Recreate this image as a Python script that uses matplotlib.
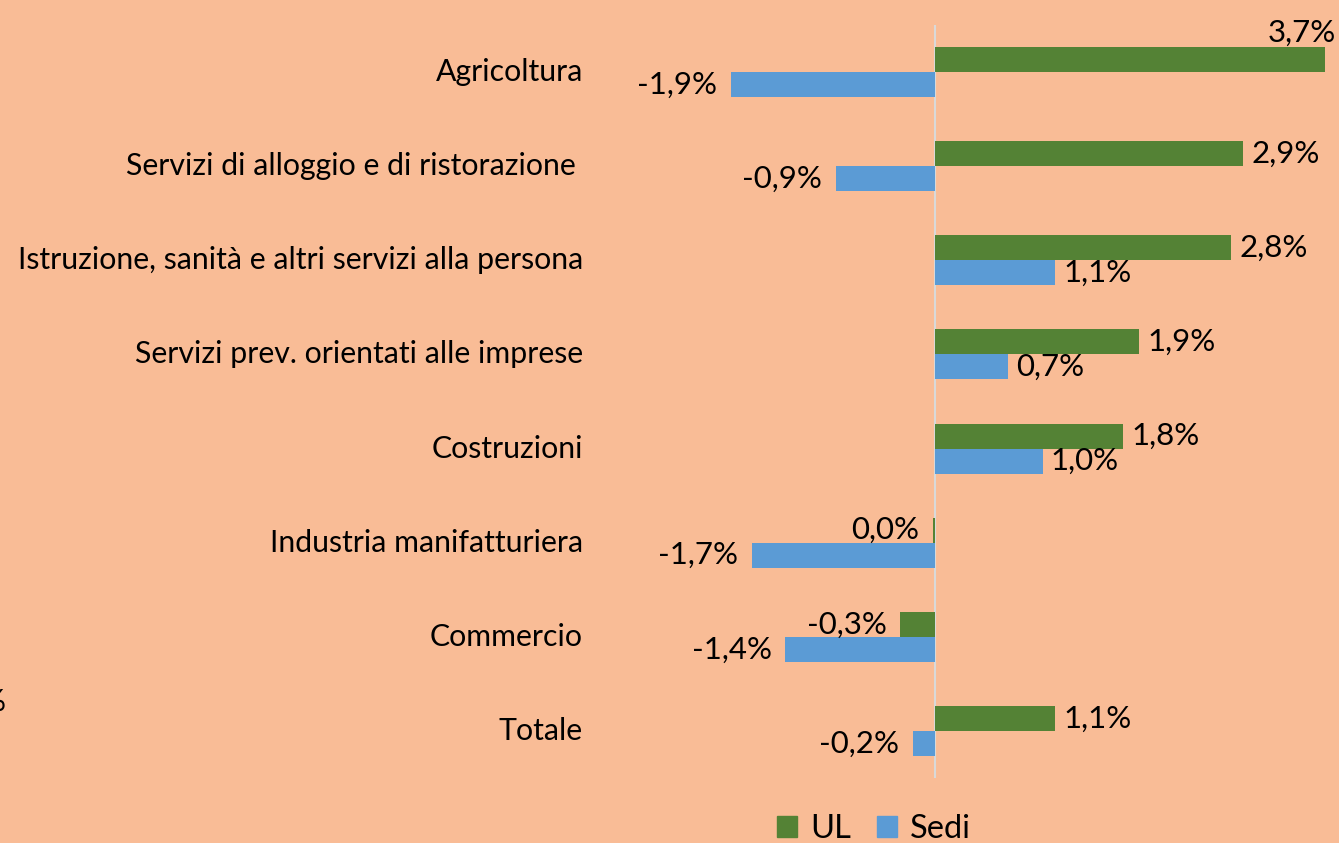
import matplotlib.pyplot as plt
import matplotlib.transforms as mtransforms
from matplotlib.patches import Patch

plt.rcParams['font.family'] = ['Lato', 'DejaVu Sans']

# dati
categorie = ['Agricoltura', 'Servizi di alloggio e di ristorazione ',
             'Istruzione, sanità e altri servizi alla persona',
             'Servizi prev. orientati alle imprese', 'Costruzioni',
             'Industria manifatturiera', 'Commercio', 'Totale']
ul = [3.7, 2.92, 2.81, 1.94, 1.78, -0.02, -0.33, 1.14]
sedi = [-1.94, -0.94, 1.14, 0.69, 1.02, -1.74, -1.42, -0.21]

sfondo = '#F9BC96'
verde = '#548235'
blu = '#5B9BD5'

fig = plt.figure(figsize=(13.39, 8.43), dpi=100, facecolor=sfondo)
# asse che copre tutta la larghezza, zero a x=935px
ax = fig.add_axes([0, 65 / 843, 1, 753 / 843])
ax.set_facecolor(sfondo)
scala = 105.4  # px per punto percentuale
xmin, xmax = -935 / scala, 404 / scala
ax.set_xlim(xmin, xmax)
ax.set_ylim(len(categorie) - 0.5, -0.5)
for s in ax.spines.values():
    s.set_visible(False)
ax.set_xticks([])
ax.set_yticks([])

h = 0.265
pos = list(range(len(categorie)))
ax.barh([p - h / 2 for p in pos], ul, height=h, color=verde, zorder=2)
ax.barh([p + h / 2 for p in pos], sedi, height=h, color=blu, zorder=2)
ax.axvline(0, color='#D9D9D9', lw=1.5, zorder=1)

def etichetta(v):
    return f'{v:.1f}%'.replace('.', ',').replace('-0,0', '0,0')

fs = 22.5     # etichette dei valori
fs_cat = 21.8 # nomi delle categorie
pad_pos = 0.08
pad_neg = 0.13

def scrivi(v, y):
    if v >= 0:
        ax.text(v + pad_pos, y, etichetta(v), ha='left', va='center', fontsize=fs)
    else:
        ax.text(v - pad_neg, y, etichetta(v), ha='right', va='center', fontsize=fs)

for p, v in zip(pos, ul):
    if v + 0.8 > xmax:
        ax.text(xmax - 0.03, p - h, etichetta(v), ha='right', va='bottom', fontsize=fs)
    else:
        scrivi(v, p - h / 2)
for p, v in zip(pos, sedi):
    scrivi(v, p + h / 2)

# nomi delle categorie a sinistra
trans = mtransforms.blended_transform_factory(ax.transAxes, ax.transData)
for p, c in zip(pos, categorie):
    ax.text(583 / 1339, p, c, transform=trans, ha='right', va='center', fontsize=fs_cat)

# testo tagliato sul bordo sinistro (come nell'originale)
fig.text(6 / 1339, 1 - 702 / 843, '%', ha='right', va='center', fontsize=fs)

maniglie = [Patch(color=verde, label='UL'), Patch(color=blu, label='Sedi')]
fig.legend(handles=maniglie, loc='center', bbox_to_anchor=(874 / 1339, 1 - 829 / 843),
           ncol=2, frameon=False, fontsize=fs + 1, handlelength=0.62, handleheight=0.62,
           handletextpad=0.4, columnspacing=0.8)

fig.savefig('out.png', dpi=100, facecolor=sfondo)
